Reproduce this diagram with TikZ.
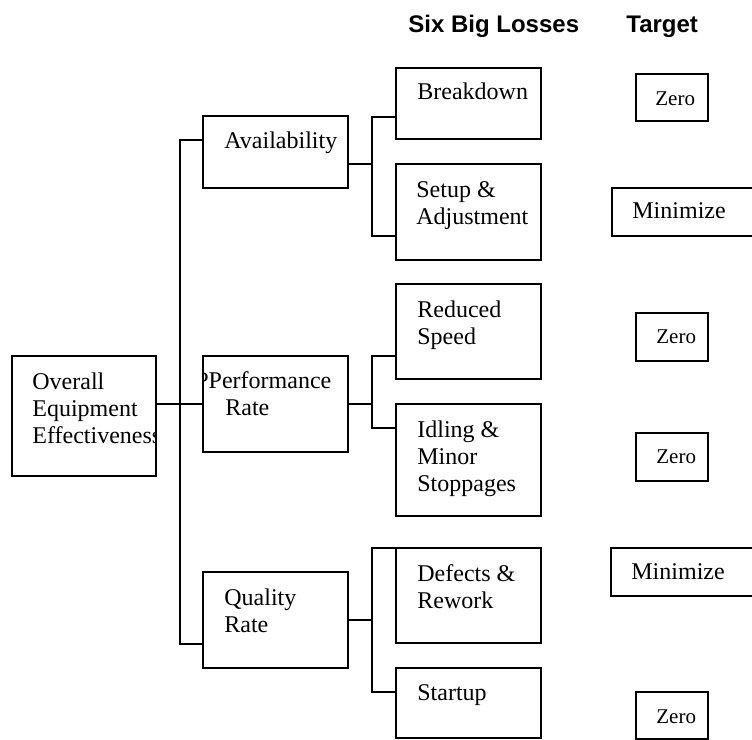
\documentclass[tikz,border=0pt]{standalone}
\usepackage{fontspec}
\setmainfont{Liberation Serif}
\setsansfont{Liberation Sans}
\tikzset{
	box/.style={
		draw,
		line width=0.9pt,
		anchor=north west,
		inner sep=0pt,
		outer sep=0pt,
	},
	% anchored on the baseline of the last line
	txt/.style={
		anchor=base west,
		align=left,
		inner sep=0pt,
		font={\fontsize{12}{13.5}\selectfont}
	},
	small/.style={
		txt,
		font={\fontsize{10.5}{12}\selectfont}
	},
	head/.style={
		anchor=base west,
		inner sep=0pt,
		font={\sffamily\bfseries\fontsize{12}{14}\selectfont}
	},
	link/.style={line width=0.9pt},
}

\begin{document}
\begin{tikzpicture}[x=0.5pt, y=-0.5pt]
\useasboundingbox (0,0) rectangle (752,740);

% column headings
\node(losses)[head] at (408,32) {Six Big Losses};
\node(target)[head] at (626,32) {Target};

% OEE and its three rates
\node(oee)[box, minimum width=72pt, minimum height=60pt] at (12,356) {};
\node(avail)[box, minimum width=72.5pt, minimum height=36pt] at (203,116) {};
\node(perf)[box, minimum width=72.5pt, minimum height=48pt] at (203,356) {};
\node(qual)[box, minimum width=72.5pt, minimum height=48pt] at (203,572) {};

\begin{scope}
\clip (oee.south west) rectangle (oee.north east);
\node(oee-t)[txt] at ([shift={(20,87)}]oee.north west) {Overall\\Equipment\\Effectiveness};
\end{scope}
\node(avail-t)[txt] at ([shift={(21,32)}]avail.north west) {Availability};
\begin{scope}
\clip (perf.south west) rectangle (perf.north east);
\node(perf-t)[txt] at ([shift={(-8,59)}]perf.north west) {PPerformance\\\hspace*{15pt}Rate};
\end{scope}
\node(qual-t)[txt] at ([shift={(21,60)}]qual.north west) {Quality\\Rate};

% the six losses
\node(brk)[box, minimum width=72.5pt, minimum height=35.5pt] at (396,68) {};
\node(setup)[box, minimum width=72.5pt, minimum height=48pt] at (396,164) {};
\node(speed)[box, minimum width=72.5pt, minimum height=47.5pt] at (396,284) {};
\node(idle)[box, minimum width=72.5pt, minimum height=56pt] at (396,404) {};
\node(defect)[box, minimum width=72.5pt, minimum height=47.5pt] at (396,548) {};
\node(start)[box, minimum width=72.5pt, minimum height=35pt] at (396,668) {};

\node(brk-t)[txt] at ([shift={(21,31)}]brk.north west) {Breakdown};
\node(setup-t)[txt] at ([shift={(20,60)}]setup.north west) {Setup \&\\Adjustment};
\node(speed-t)[txt] at ([shift={(21,60)}]speed.north west) {Reduced\\Speed};
\node(idle-t)[txt] at ([shift={(21,87)}]idle.north west) {Idling \&\\Minor\\Stoppages};
\node(defect-t)[txt] at ([shift={(21,60)}]defect.north west) {Defects \&\\Rework};
\node(start-t)[txt] at ([shift={(21,32)}]start.north west) {Startup};

% targets
\node(zero1)[box, minimum width=36pt, minimum height=23.5pt] at (636,74) {};
\node(min1)[box, minimum width=84pt, minimum height=24pt] at (612,188) {};
\node(zero2)[box, minimum width=36pt, minimum height=24pt] at (636,313) {};
\node(zero3)[box, minimum width=36pt, minimum height=24pt] at (636,433) {};
\node(min2)[box, minimum width=84pt, minimum height=24pt] at (611,548) {};
\node(zero4)[box, minimum width=36pt, minimum height=23.5pt] at (636,692) {};

\node(zero1-t)[small] at ([shift={(19,31)}]zero1.north west) {Zero};
\node(min1-t)[txt] at ([shift={(20,30)}]min1.north west) {Minimize};
\node(zero2-t)[small] at ([shift={(20,30)}]zero2.north west) {Zero};
\node(zero3-t)[small] at ([shift={(20,30)}]zero3.north west) {Zero};
\node(min2-t)[txt] at ([shift={(20,31)}]min2.north west) {Minimize};
\node(zero4-t)[small] at ([shift={(20,31)}]zero4.north west) {Zero};

% tree connectors
\coordinate(trunk) at (180,404);
\draw[link] (oee.east |- perf.west) -- (perf.west);
\draw[link] ([yshift=6pt]avail.west) -| (trunk) |- ([yshift=-12pt]qual.west);

\coordinate(bA) at (372,164);
\draw[link] ([yshift=-6pt]avail.east) -- (bA);
\draw[link] ([yshift=-6.75pt]brk.west) -| (bA) |- ([yshift=-12pt]setup.west);

\coordinate(bP) at (372,404);
\draw[link] (perf.east) -- (bP);
\draw[link] ([yshift=-12.25pt]speed.west) -| (bP) |- ([yshift=16pt]idle.west);

\coordinate(bQ) at (372,620);
\draw[link] (qual.east) -- (bQ);
\draw[link] (defect.north west) -| (bQ) |- ([yshift=5.5pt]start.west);

\end{tikzpicture}
\end{document}
